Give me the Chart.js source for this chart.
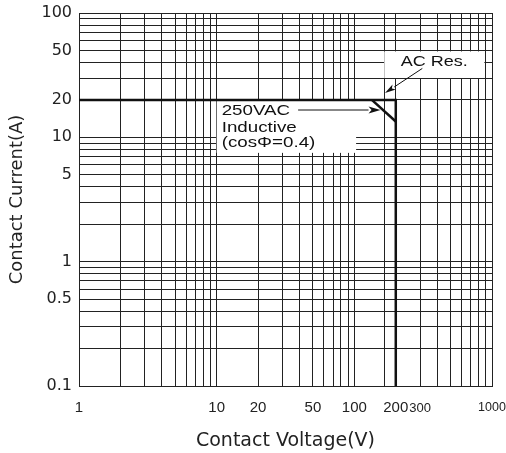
<!DOCTYPE html>
<html>
<head>
<meta charset="utf-8">
<title>Contact Current vs Contact Voltage</title>
<script src="https://cdn.jsdelivr.net/npm/chart.js@4.4.1/dist/chart.umd.min.js"></script>
<style>
  html, body { margin: 0; padding: 0; background: #fff; }
  #wrap { width: 506px; height: 453px; position: relative; }
</style>
</head>
<body>
<div id="wrap"><canvas id="loadChart"></canvas></div>
<script>
// --- 1. Values ---
const resVoltage = [1, 200, 200];     // AC resistive limit (V)
const resCurrent = [20, 20, 0.1];     // (A)
const indVoltage = [134, 200];        // 250VAC inductive (cos phi = 0.4)
const indCurrent = [20, 13.4];

const xTickLabels = [1, 10, 20, 50, 100, 200, 300, 1000];
const yTickLabels = [0.1, 0.5, 1, 5, 10, 20, 50, 100];
const xExtraGrid = [165];             // stray grid line in the original drawing

const inductiveText = ['250VAC', 'Inductive', '(cos\u03A6=0.4)'];
const resistiveText = 'AC Res.';

// --- 2. Grid helpers ---
function logGrid(from, to) {
    const out = [];
    for (let d = from; d < to * 0.999; d *= 10) {
        for (let m = 1; m < 10; m++) out.push(+(m * d).toPrecision(3));
    }
    out.push(to);
    return out;
}
const xGrid = logGrid(1, 1000).concat(xExtraGrid).sort((a, b) => a - b);
const yGrid = logGrid(0.1, 100);

function labelFor(v, list) {
    return list.some(l => Math.abs(l - v) < l * 1e-6) ? String(v) : '';
}

const gridColor = '#222';
const inkColor = '#111';

// white label boxes, in data units (they hide the grid behind the notes)
const noteBoxes = {
    inductive: { x0: 10, x1: 103, y0: 20, y1: 7.5 },
    resistive: { x0: 165, x1: 880, y0: 50, y1: 30 }
};
// arrow tips, in data units
const resArrowTip = { x: 167, y: 22.7 };
const indArrowTipX = 155;

// --- 3. Annotation plugin (boxes, text, arrows) ---
function boxPx(b, xs, ys) {
    return {
        left: xs.getPixelForValue(b.x0), right: xs.getPixelForValue(b.x1),
        top: ys.getPixelForValue(b.y0), bottom: ys.getPixelForValue(b.y1)
    };
}

function stretchedText(ctx, str, x, y, sx, align) {
    ctx.save();
    ctx.translate(x, y);
    ctx.scale(sx, 1);
    ctx.textAlign = align;
    ctx.fillText(str, 0, 0);
    ctx.restore();
    return ctx.measureText(str).width * sx;
}

function drawArrow(ctx, x0, y0, x1, y1, len, half) {
    const a = Math.atan2(y1 - y0, x1 - x0);
    const bx = x1 - Math.cos(a) * len, by = y1 - Math.sin(a) * len;
    ctx.beginPath();
    ctx.moveTo(x0, y0);
    ctx.lineTo(bx, by);
    ctx.stroke();
    ctx.beginPath();
    ctx.moveTo(x1, y1);
    ctx.lineTo(bx + Math.sin(a) * half, by - Math.cos(a) * half);
    ctx.lineTo(bx + Math.cos(a) * len * 0.25, by + Math.sin(a) * len * 0.25);
    ctx.lineTo(bx - Math.sin(a) * half, by + Math.cos(a) * half);
    ctx.closePath();
    ctx.fill();
}

const notesPlugin = {
    id: 'notes',
    beforeDatasetsDraw(chart) {
        const { ctx, scales: { x, y } } = chart;
        ctx.save();
        ctx.fillStyle = '#fff';
        Object.values(noteBoxes).forEach(b => {
            const p = boxPx(b, x, y);
            ctx.fillRect(p.left, p.top + 1, p.right - p.left, p.bottom - p.top - 1);
        });
        ctx.restore();
    },
    afterDatasetsDraw(chart) {
        const { ctx, scales: { x, y } } = chart;
        ctx.save();
        ctx.fillStyle = inkColor;
        ctx.strokeStyle = inkColor;
        ctx.lineWidth = 1;
        ctx.font = '15px "Liberation Sans", Arial, sans-serif';
        ctx.textBaseline = 'alphabetic';

        // inductive note
        const ib = boxPx(noteBoxes.inductive, x, y);
        const tx = ib.left + 5;
        const lines = [15.5, 32, 47.5];
        let firstW = 0;
        inductiveText.forEach((t, i) => {
            const w = stretchedText(ctx, t, tx, ib.top + lines[i], 1.25, 'left');
            if (i === 0) firstW = w;
        });
        const ay = ib.top + lines[0] - 5.4;
        drawArrow(ctx, tx + firstW + 8, ay, x.getPixelForValue(indArrowTipX), ay, 12, 3.5);

        // resistive note
        const rb = boxPx(noteBoxes.resistive, x, y);
        const cx = (rb.left + rb.right) / 2;
        stretchedText(ctx, resistiveText, cx, rb.top + 16, 1.2, 'center');
        drawArrow(ctx, cx - 12, rb.top + 18,
            x.getPixelForValue(resArrowTip.x), y.getPixelForValue(resArrowTip.y), 11, 3);
        ctx.restore();
    }
};

// --- 4. Chart ---
const toPoints = (xs, ys) => xs.map((v, i) => ({ x: v, y: ys[i] }));

const lineStyle = {
    showLine: true, borderColor: inkColor, borderWidth: 2.5,
    pointRadius: 0, pointHoverRadius: 0, fill: false, tension: 0
};

// the last two voltage labels are set smaller on the sheet
function xTickFont(c) {
    const v = c.tick ? c.tick.value : 0;
    const size = v >= 1000 ? 12.5 : (v >= 300 ? 13 : 15);
    return { family: '"Liberation Sans", Arial, sans-serif', size: size, lineHeight: '18px' };
}

new Chart(document.getElementById('loadChart').getContext('2d'), {
    type: 'scatter',
    data: {
        datasets: [
            Object.assign({ label: 'AC Res.', data: toPoints(resVoltage, resCurrent) }, lineStyle),
            Object.assign({ label: '250VAC Inductive', data: toPoints(indVoltage, indCurrent) }, lineStyle)
        ]
    },
    options: {
        responsive: true,
        maintainAspectRatio: false,
        animation: false,
        layout: { padding: { top: 13, right: 14, bottom: 0, left: 0 } },
        plugins: { legend: { display: false }, tooltip: { enabled: false } },
        scales: {
            x: {
                type: 'logarithmic', min: 1, max: 1000,
                afterBuildTicks: s => { s.ticks = xGrid.map(v => ({ value: v })); },
                afterFit: s => { s.height = 67; s.paddingLeft = 0; s.paddingRight = 0; },
                grid: { color: gridColor, lineWidth: 1, drawTicks: false },
                border: { color: gridColor, width: 1 },
                ticks: {
                    autoSkip: false, maxRotation: 0, padding: 13, color: '#222',
                    font: xTickFont,
                    callback: v => labelFor(v, xTickLabels)
                },
                title: {
                    display: true, text: 'Contact Voltage(V)', color: '#222',
                    font: { family: '"DejaVu Sans", sans-serif', size: 19 },
                    padding: { top: 0, bottom: 1 }
                }
            },
            y: {
                type: 'logarithmic', min: 0.1, max: 100,
                afterBuildTicks: s => { s.ticks = yGrid.map(v => ({ value: v })); },
                afterFit: s => { s.width = 79; s.paddingTop = 0; s.paddingBottom = 0; },
                grid: { color: gridColor, lineWidth: 1, drawTicks: false },
                border: { color: gridColor, width: 1 },
                ticks: {
                    autoSkip: false, padding: 7, color: '#222',
                    font: { family: '"DejaVu Sans", sans-serif', size: 16 },
                    callback: v => labelFor(v, yTickLabels)
                },
                title: {
                    display: true, text: 'Contact Current(A)', color: '#222',
                    font: { family: '"DejaVu Sans", sans-serif', size: 18 },
                    padding: { top: 7, bottom: 0 }
                }
            }
        }
    },
    plugins: [notesPlugin]
});
</script>
</body>
</html>
